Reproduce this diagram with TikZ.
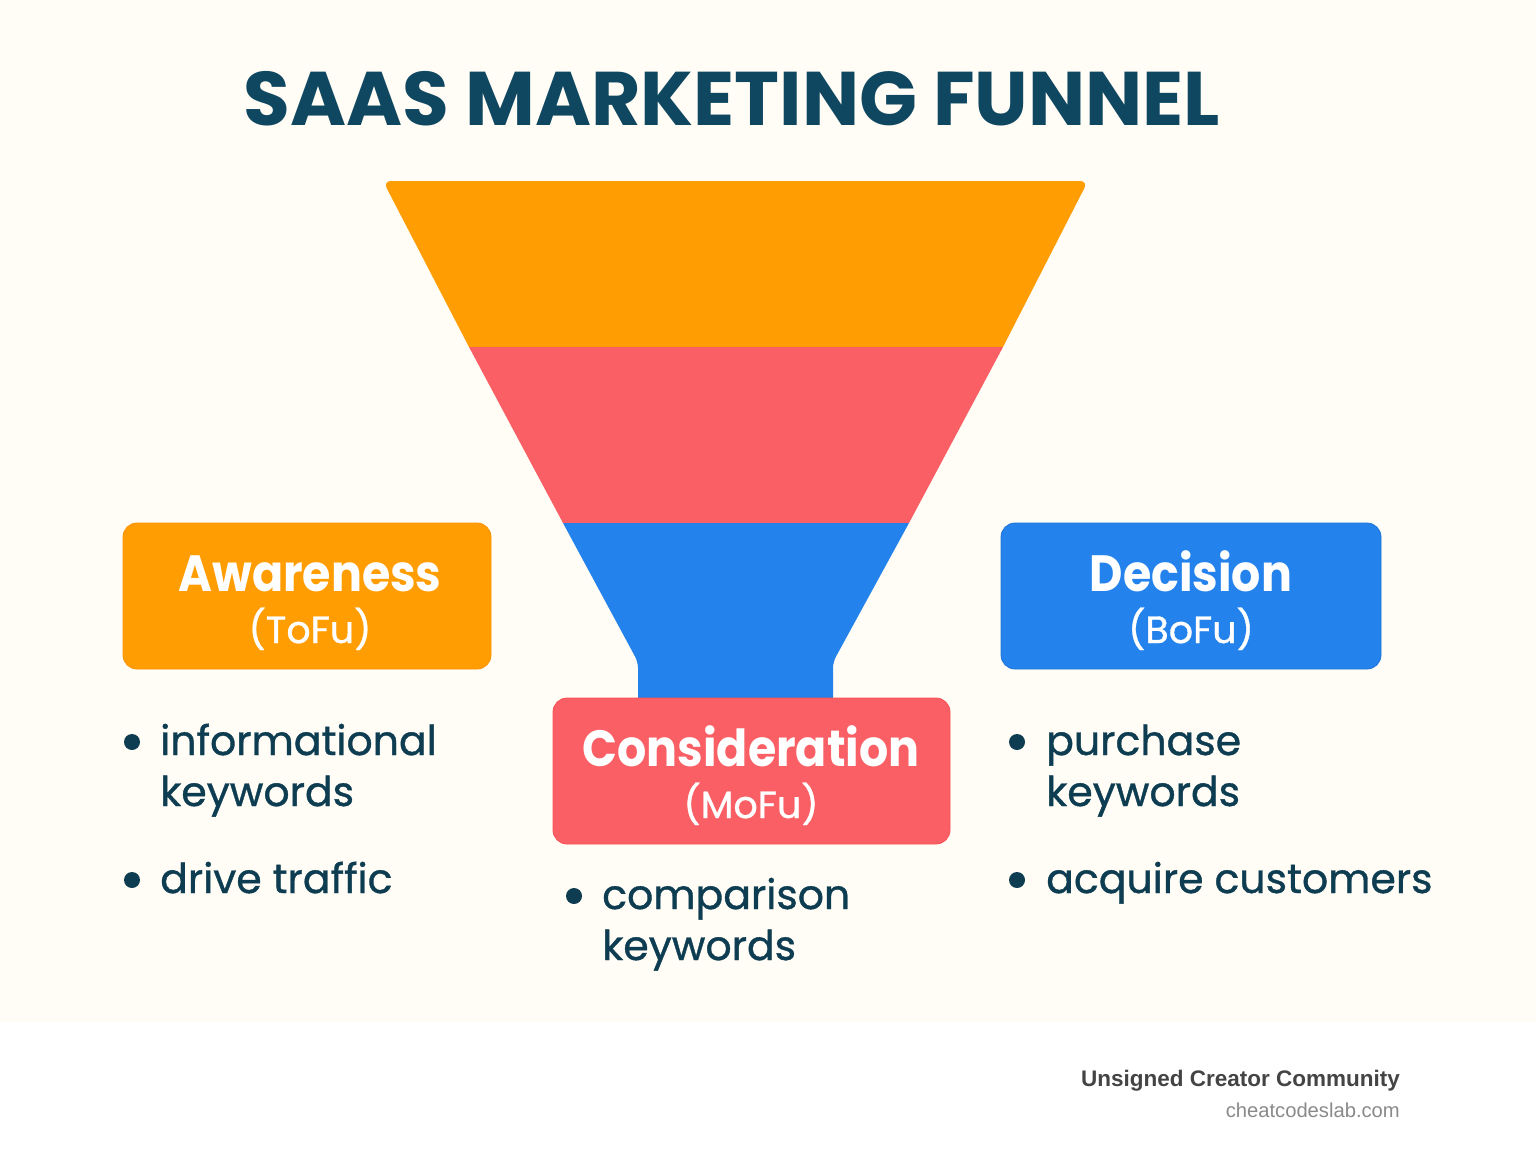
\documentclass[tikz,border=0pt]{standalone}
\usepackage{fontspec}
\setmainfont{Poppins}
\newfontfamily\popmed[FakeBold=0.9]{Poppins}
\newfontfamily\pophead[FakeStretch=0.9]{Poppins}
\newfontfamily\footfont{Liberation Sans}
\definecolor{bgtop}{HTML}{FFFDF6}
\definecolor{titlec}{HTML}{0F4760}
\definecolor{textc}{HTML}{0E3D52}
\definecolor{orangec}{HTML}{FF9D02}
\definecolor{redc}{HTML}{F95F64}
\definecolor{bluec}{HTML}{2382EC}
\definecolor{footdark}{HTML}{444444}
\definecolor{footgrey}{HTML}{8A8A8A}
\tikzset{
  stagebox/.style={rectangle, rounded corners=14pt, inner sep=0pt},
  headtxt/.style={text=white, font=\pophead\fontsize{51}{51}\selectfont\bfseries, inner sep=0pt, anchor=base},
  subtxt/.style={text=white, font=\popmed\fontsize{38}{38}\selectfont, inner sep=0pt, anchor=base},
  bultxt/.style={text=textc, font=\popmed\fontsize{41}{51}\selectfont, inner sep=0pt, anchor=base west},
  dot/.style={circle, fill=textc, minimum size=16pt, inner sep=0pt},
}
\begin{document}
\begin{tikzpicture}[x=1pt,y=-1pt]
\useasboundingbox (0,0) rectangle (1536,1154);
\fill[white] (0,0) rectangle (1536,1154);
\fill[bgtop] (0,0) rectangle (1536,1022);
% title
\node[text=titlec, font=\fontsize{76}{76}\selectfont\bfseries, inner sep=0pt, anchor=base] (title) at (732,125) {SAAS MARKETING FUNNEL};
% funnel
\fill[orangec] (469,347) [rounded corners=8pt] -- (383,181) -- (1088,181) [sharp corners] -- (1003,347) -- cycle;
\fill[redc] (469,347) -- (1003,347) -- (909,523) -- (563,523) -- cycle;
\fill[bluec] (563,523) -- (909,523) [rounded corners=6pt] -- (833,662) [sharp corners] -- (833,700) -- (638,700) [rounded corners=6pt] -- (638,662) [sharp corners] -- cycle;
% boxes
\node[stagebox, fill=orangec, draw=orangec!92!red, line width=0.8pt, minimum width=368pt, minimum height=146pt] (aw) at (307,596) {};
\node[stagebox, fill=bluec, draw=bluec!90!black, line width=0.8pt, minimum width=380pt, minimum height=146pt] (de) at (1191,596) {};
\node[stagebox, fill=redc, draw=redc!85!red, line width=0.8pt, minimum width=397pt, minimum height=146pt] (co) at (751.5,771) {};
\node[headtxt] (awt) at (310,591) {Awareness};
\node[subtxt] (aws) at (310,643) {(ToFu)};
\node[headtxt] (det) at (1191,591) {Decision};
\node[subtxt] (des) at (1191,643) {(BoFu)};
\node[headtxt] (cot) at (751,766) {Consideration};
\node[subtxt] (cos) at (751,818) {(MoFu)};
% bullets
\node[dot] (b1) at (132,742) {};
\node[bultxt] (t1a) at (160,755) {informational};
\node[bultxt] (t1b) at (160,806) {keywords};
\node[dot] (b2) at (132,880) {};
\node[bultxt] (t2) at (160,893) {drive traffic};
\node[dot] (b3) at (574,896) {};
\node[bultxt] (t3a) at (602,909) {comparison};
\node[bultxt] (t3b) at (602,960) {keywords};
\node[dot] (b4) at (1017,742) {};
\node[bultxt] (t4a) at (1046,755) {purchase};
\node[bultxt] (t4b) at (1046,806) {keywords};
\node[dot] (b5) at (1017,880) {};
\node[bultxt] (t5) at (1046,893) {acquire customers};
% footer
\node[text=footdark, font=\footfont\fontsize{22.5}{22.5}\selectfont\bfseries, inner sep=0pt, anchor=base east] (f1) at (1400,1086) {Unsigned Creator Community};
\node[text=footgrey, font=\footfont\fontsize{20.2}{20.2}\selectfont, inner sep=0pt, anchor=base east] (f2) at (1400,1117) {cheatcodeslab.com};
\end{tikzpicture}
\end{document}
